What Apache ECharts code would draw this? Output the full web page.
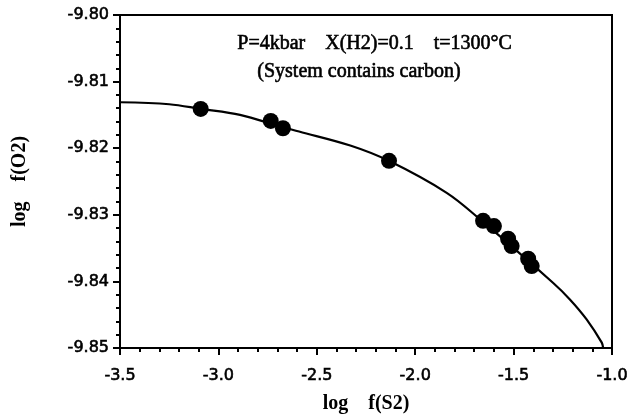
<!DOCTYPE html>
<html>
<head>
<meta charset="utf-8">
<script src="https://cdn.jsdelivr.net/npm/echarts@6/dist/echarts.min.js"></script>
<style>
  html, body { margin: 0; padding: 0; background: #fff; }
  #chart { width: 631px; height: 415px; }
</style>
</head>
<body>
<div id="chart"></div>
<script>
// Equilibrium curve: log f(O2) versus log f(S2)
const curveS2 = [-3.5, -3.25, -3.09, -2.89, -2.69, -2.59, -2.33, -2.134, -1.84, -1.67, -1.30, -1.214, -1.129, -1.052, -1.045];
const curveO2 = [-9.8131, -9.8134, -9.8141, -9.8150, -9.8167, -9.8175, -9.8196, -9.8219, -9.8267, -9.8307, -9.8402, -9.8427, -9.8457, -9.8492, -9.8500];

// Computed compositions (filled circles)
const pointS2 = [-3.09, -2.734, -2.672, -2.133, -1.655, -1.600, -1.528, -1.510, -1.426, -1.408];
const pointO2 = [-9.8141, -9.8159, -9.8170, -9.8219, -9.8309, -9.8317, -9.8336, -9.8347, -9.8366, -9.8377];

const xTicks = { min: -3.5, max: -1.0, step: 0.5 };
const yTicks = { min: -9.85, max: -9.80, step: 0.01 };

const noteLine1 = 'P=4kbar    X(H2)=0.1    t=1300\u00B0C';
const noteLine2 = '(System contains carbon)';
const xTitle = 'log    f(S2)';
const yTitle = 'log    f(O2)';

const zip = (a, b) => a.map((v, i) => [v, b[i]]);

const chart = echarts.init(document.getElementById('chart'), null, { renderer: 'canvas' });

const tickLabel = {
  color: '#000', fontFamily: 'DejaVu Sans', fontSize: 16,
  textBorderColor: '#000', textBorderWidth: 0.6
};
const titleFont = { color: '#000', fontFamily: 'Liberation Serif', fontWeight: 'bold', fontSize: 20 };

chart.setOption({
  animation: false,
  backgroundColor: '#fff',
  grid: {
    left: 120, right: 19, top: 15, bottom: 67,
    outerBoundsMode: 'none',
    show: true, borderColor: '#000', borderWidth: 2, backgroundColor: 'transparent'
  },
  xAxis: {
    type: 'value',
    min: xTicks.min, max: xTicks.max, interval: xTicks.step,
    name: xTitle, nameLocation: 'middle', nameGap: 46,
    nameTextStyle: titleFont,
    axisLine: { onZero: false, lineStyle: { color: '#000', width: 2 } },
    axisTick: { show: true, inside: false, length: 7, lineStyle: { color: '#000', width: 2 } },
    minorTick: { show: true, splitNumber: 5, length: 4, lineStyle: { color: '#000', width: 2 } },
    splitLine: { show: false },
    axisLabel: Object.assign({ margin: 20, formatter: v => v.toFixed(1) }, tickLabel)
  },
  yAxis: {
    type: 'value',
    min: yTicks.min, max: yTicks.max, interval: yTicks.step,
    name: yTitle, nameLocation: 'middle', nameGap: 90, nameRotate: 90,
    nameTextStyle: titleFont,
    axisLine: { onZero: false, lineStyle: { color: '#000', width: 2 } },
    axisTick: { show: true, inside: false, length: 7, lineStyle: { color: '#000', width: 2 } },
    minorTick: { show: true, splitNumber: 5, length: 4, lineStyle: { color: '#000', width: 2 } },
    splitLine: { show: false },
    axisLabel: Object.assign({ margin: 11, formatter: v => v.toFixed(2) }, tickLabel)
  },
  graphic: [
    {
      type: 'text', left: 237, top: 33,
      style: { text: noteLine1, font: '20px "Liberation Serif"', fill: '#000', stroke: '#000', lineWidth: 0.6 }
    },
    {
      type: 'text', left: 257, top: 61,
      style: { text: noteLine2, font: '20px "Liberation Serif"', fill: '#000', stroke: '#000', lineWidth: 0.6 }
    }
  ],
  series: [
    {
      type: 'line',
      data: zip(curveS2, curveO2),
      smooth: 0.35,
      showSymbol: false,
      clip: true,
      lineStyle: { color: '#000', width: 2.2 },
      z: 2
    },
    {
      type: 'scatter',
      data: zip(pointS2, pointO2),
      symbol: 'circle',
      symbolSize: 16,
      itemStyle: { color: '#000', opacity: 1 },
      z: 3
    }
  ]
});
</script>
</body>
</html>
